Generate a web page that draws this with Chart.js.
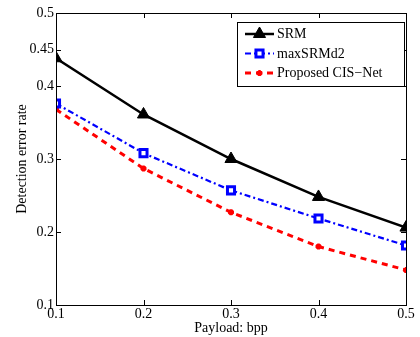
<!DOCTYPE html>
<html><head><meta charset="utf-8">
<script src="https://cdn.jsdelivr.net/npm/chart.js@4"></script>
<style>html,body{margin:0;padding:0;background:#fff}#wrap{width:420px;height:337px}</style>
</head><body><div id="wrap"><canvas id="c" width="420" height="337"></canvas></div>
<script>
const payload = [0.1, 0.2, 0.3, 0.4, 0.5];
const srm = [0.438, 0.361, 0.300, 0.248, 0.206];
const maxSRMd2 = [0.376, 0.308, 0.257, 0.2185, 0.1815];
const cisNet = [0.368, 0.287, 0.227, 0.180, 0.148];
const xTicks = [0.1, 0.2, 0.3, 0.4, 0.5];
const yTicks = [0.1, 0.2, 0.3, 0.4, 0.45, 0.5];
const seriesNames = ['SRM', 'maxSRMd2', 'Proposed CIS\u2212Net'];

const FONT = 'Liberation Serif';
const toXY = arr => arr.map((v, i) => ({x: payload[i], y: v}));

const framePlugin = {
  id: 'frame',
  afterDraw(chart) {
    const ctx = chart.ctx, a = chart.chartArea;
    const xs = chart.scales.x, ys = chart.scales.y;
    ctx.save();
    ctx.strokeStyle = '#000'; ctx.lineWidth = 1;
    ctx.strokeRect(Math.round(a.left)+0.5, Math.round(a.top)+0.5, Math.round(a.right-a.left), Math.round(a.bottom-a.top));
    const tl = 5;
    ctx.beginPath();
    xTicks.forEach(v => {
      const px = Math.round(xs.getPixelForValue(v)) + 0.5;
      ctx.moveTo(px, a.bottom); ctx.lineTo(px, a.bottom - tl);
      ctx.moveTo(px, a.top); ctx.lineTo(px, a.top + tl);
    });
    yTicks.forEach(v => {
      const py = Math.round(ys.getPixelForValue(v)) + 0.5;
      ctx.moveTo(a.left, py); ctx.lineTo(a.left + tl, py);
      ctx.moveTo(a.right, py); ctx.lineTo(a.right - tl, py);
    });
    ctx.stroke();

    // legend
    const bx = 237.5, by = 22.5, bw = 167, bh = 64;
    ctx.fillStyle = '#fff';
    ctx.fillRect(bx, by, bw, bh);
    ctx.strokeRect(bx, by, bw, bh);
    const rows = [34, 53.5, 73];
    chart.data.datasets.forEach((ds, i) => {
      const y = rows[i];
      ctx.save();
      ctx.strokeStyle = ds.borderColor;
      ctx.lineWidth = ds.borderWidth;
      ctx.setLineDash(ds.borderDash || []);
      ctx.beginPath(); ctx.moveTo(245, y); ctx.lineTo(274, y); ctx.stroke();
      ctx.setLineDash([]);
      ctx.fillStyle = ds.pointBackgroundColor;
      ctx.strokeStyle = ds.pointBorderColor;
      ctx.lineWidth = ds.pointBorderWidth;
      Chart.helpers.drawPoint(ctx, {
        pointStyle: ds.pointStyle, radius: ds.pointRadius, rotation: 0,
        borderWidth: ds.pointBorderWidth
      }, 259.5, y);
      ctx.restore();
      ctx.fillStyle = '#000';
      ctx.font = '14px "' + FONT + '"';
      ctx.textBaseline = 'middle';
      ctx.fillText(ds.label, 277, y + 0.5);
    });
    ctx.restore();
  }
};

const ctxEl = document.getElementById('c');
new Chart(ctxEl, {
  type: 'line',
  data: {
    datasets: [
      {label: seriesNames[0], data: toXY(srm), borderColor: '#000', backgroundColor: '#000',
       borderWidth: 2.5, pointStyle: 'triangle', pointRadius: 7, pointBorderWidth: 1,
       pointBackgroundColor: '#000', pointBorderColor: '#000'},
      {label: seriesNames[1], data: toXY(maxSRMd2), borderColor: '#0000ff', backgroundColor: '#fff',
       borderWidth: 2.2, borderDash: [6, 3, 2, 3], pointStyle: 'rect', pointRadius: 5, pointBorderWidth: 3,
       pointBackgroundColor: '#fff', pointBorderColor: '#0000ff'},
      {label: seriesNames[2], data: toXY(cisNet), borderColor: '#ff0000', backgroundColor: '#ff0000',
       borderWidth: 3, borderDash: [6, 5], pointStyle: 'star', pointRadius: 3, pointBorderWidth: 2.5,
       pointBackgroundColor: '#ff0000', pointBorderColor: '#ff0000'}
    ]
  },
  options: {
    responsive: false, animation: false, devicePixelRatio: 1,
    layout: {padding: {top: 13, right: 14, left: 0, bottom: 0}},
    plugins: {legend: {display: false}, tooltip: {enabled: false}},
    elements: {line: {tension: 0}},
    scales: {
      x: {
        type: 'linear', min: 0.1, max: 0.5,
        afterBuildTicks: s => { s.ticks = xTicks.map(v => ({value: v})); },
        afterFit: s => { s.height = 32; },
        grid: {display: false, drawTicks: false}, border: {display: false},
        ticks: {color: '#000', font: {family: FONT, size: 14}, padding: 1, maxRotation: 0,
                callback: v => String(v)},
        title: {display: true, text: 'Payload: bpp', color: '#000', font: {family: FONT, size: 14},
                padding: {top: 0, bottom: 0}}
      },
      y: {
        type: 'linear', min: 0.1, max: 0.5,
        afterBuildTicks: s => { s.ticks = yTicks.map(v => ({value: v})); },
        afterFit: s => { s.width = 56; },
        grid: {display: false, drawTicks: false}, border: {display: false},
        ticks: {color: '#000', font: {family: FONT, size: 14}, padding: 2, callback: v => String(v)},
        title: {display: true, text: 'Detection error rate', color: '#000', font: {family: FONT, size: 14},
                padding: {top: 14, bottom: 0}}
      }
    }
  },
  plugins: [framePlugin]
});
</script></body></html>
